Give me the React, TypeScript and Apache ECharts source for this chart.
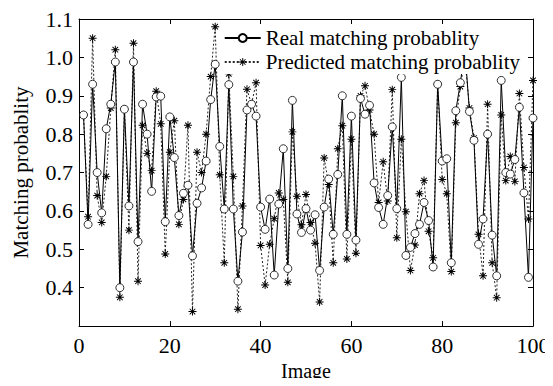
import React, { useEffect, useRef } from "react";
import * as echarts from "echarts";

const realProb: number[] = [
  0.85, 0.565, 0.93, 0.70, 0.595, 0.814, 0.878, 0.988, 0.40, 0.865,
  0.613, 0.988, 0.52, 0.878, 0.80, 0.651, 0.897, 0.899, 0.572, 0.845,
  0.739, 0.588, 0.646, 0.667, 0.483, 0.62, 0.66, 0.73, 0.89, 0.982,
  0.768, 0.605, 0.929, 0.605, 0.417, 0.545, 0.863, 0.878, 0.847, 0.61,
  0.552, 0.631, 0.433, 0.618, 0.762, 0.45, 0.888, 0.592, 0.544, 0.606,
  0.55, 0.59, 0.445, 0.61, 0.683, 0.539, 0.695, 0.90, 0.539, 0.847,
  0.524, 0.893, 0.852, 0.875, 0.673, 0.609, 0.565, 0.64, 0.819, 0.606,
  0.948, 0.484, 0.505, 0.541, 0.565, 0.622, 0.575, 0.454, 0.93, 0.73,
  0.736, 0.465, 0.861, 0.934, 1.02, 0.859, 0.784, 0.513, 0.579, 0.80,
  0.537, 0.431, 0.94, 0.70, 0.696, 0.734, 0.87, 0.647, 0.427, 0.842,
];

const predProb: number[] = [
  0.85, 0.585, 1.05, 0.64, 0.57, 0.69, 0.868, 1.02, 0.375, 0.865,
  0.55, 1.037, 0.417, 0.823, 0.75, 0.705, 0.912, 0.827, 0.488, 0.753,
  0.835, 0.565, 0.63, 0.823, 0.338, 0.753, 0.70, 0.80, 0.95, 1.08,
  0.694, 0.465, 0.957, 0.69, 0.344, 0.613, 0.917, 0.878, 0.934, 0.51,
  0.407, 0.513, 0.58, 0.647, 0.63, 0.414, 0.806, 0.638, 0.564, 0.643,
  0.57, 0.516, 0.363, 0.738, 0.669, 0.465, 0.762, 0.822, 0.475, 0.787,
  0.49, 0.90, 0.926, 0.863, 0.80, 0.622, 0.728, 0.626, 0.916, 0.53,
  0.787, 0.598, 0.445, 0.511, 0.645, 0.679, 0.547, 0.478, 0.93, 0.682,
  0.645, 0.442, 0.83, 0.924, 1.0, 0.868, 0.79, 0.539, 0.431, 0.878,
  0.465, 0.374, 0.85, 0.679, 0.742, 0.677, 0.906, 0.713, 0.579, 0.94,
];

const imageIndex: number[] = realProb.map((_, i) => i + 1);

const xTicks = { min: 0, max: 100, interval: 20 };
const yTicks = { min: 0.3, max: 1.1, interval: 0.1 };

const FONT = "'Liberation Serif', 'Times New Roman', serif";

const STAR =
  "path://M4.4 0 H5.6 V10 H4.4 Z M0 4.4 H10 V5.6 H0 Z " +
  "M1.1 1.95 L1.95 1.1 L8.9 8.05 L8.05 8.9 Z M8.05 1.1 L8.9 1.95 L1.95 8.9 L1.1 8.05 Z";

export default function App() {
  const ref = useRef<HTMLDivElement>(null);
  useEffect(() => {
    if (!ref.current) return;
    const chart = echarts.init(ref.current, undefined, { renderer: "svg" });
    const axisCommon = {
      axisLine: { show: true, onZero: false, lineStyle: { color: "#000", width: 1 } },
      axisTick: { show: true, inside: true, length: 5, lineStyle: { color: "#000" } },
      splitLine: { show: false },
    };
    chart.setOption({
      animation: false,
      backgroundColor: "#fff",
      grid: { left: 79, right: 20, top: 19, bottom: 53, show: false },
      legend: {
        orient: "vertical",
        right: 33,
        top: 26,
        padding: [0, 0, 0, 2],
        itemGap: 0,
        itemWidth: 36,
        itemHeight: 10,
        backgroundColor: "#fff",
        textStyle: { fontFamily: FONT, fontSize: 21, color: "#000", lineHeight: 24 },
        data: ["Real matching probablity", "Predicted matching probablity"],
      },
      xAxis: [
        {
          type: "value",
          ...xTicks,
          position: "bottom",
          ...axisCommon,
          name: "Image",
          nameLocation: "middle",
          nameGap: 31,
          nameTextStyle: { fontFamily: FONT, fontSize: 20, color: "#000" },
          axisLabel: { fontFamily: FONT, fontSize: 22, color: "#000", margin: 8 },
        },
        {
          type: "value",
          ...xTicks,
          position: "top",
          ...axisCommon,
          axisLabel: { show: false },
        },
      ],
      yAxis: [
        {
          type: "value",
          ...yTicks,
          position: "left",
          ...axisCommon,
          name: "Matching probablity",
          nameLocation: "middle",
          nameGap: 48,
          nameTextStyle: { fontFamily: FONT, fontSize: 21, color: "#000" },
          axisLabel: {
            fontFamily: FONT,
            fontSize: 22,
            color: "#000",
            margin: 6,
            formatter: (v: number) => (v < 0.35 ? "" : v.toFixed(1)),
          },
        },
        {
          type: "value",
          ...yTicks,
          position: "right",
          ...axisCommon,
          axisLabel: { show: false },
        },
      ],
      series: [
        {
          name: "Real matching probablity",
          type: "line",
          data: imageIndex.map((x, i) => [x, realProb[i]]),
          symbol: "circle",
          symbolSize: 8,
          showAllSymbol: true,
          lineStyle: { color: "#000", width: 1, type: "solid" },
          itemStyle: { color: "#fff", borderColor: "#000", borderWidth: 0.8 },
          z: 3,
        },
        {
          name: "Predicted matching probablity",
          type: "line",
          data: imageIndex.map((x, i) => [x, predProb[i]]),
          symbol: STAR,
          symbolSize: 8,
          showAllSymbol: true,
          lineStyle: { color: "#222", width: 1, type: [2, 2] },
          itemStyle: { color: "#000" },
          z: 2,
        },
      ],
    });
    return () => chart.dispose();
  }, []);
  return <div ref={ref} style={{ width: 553, height: 386, margin: -8 }} />;
}
